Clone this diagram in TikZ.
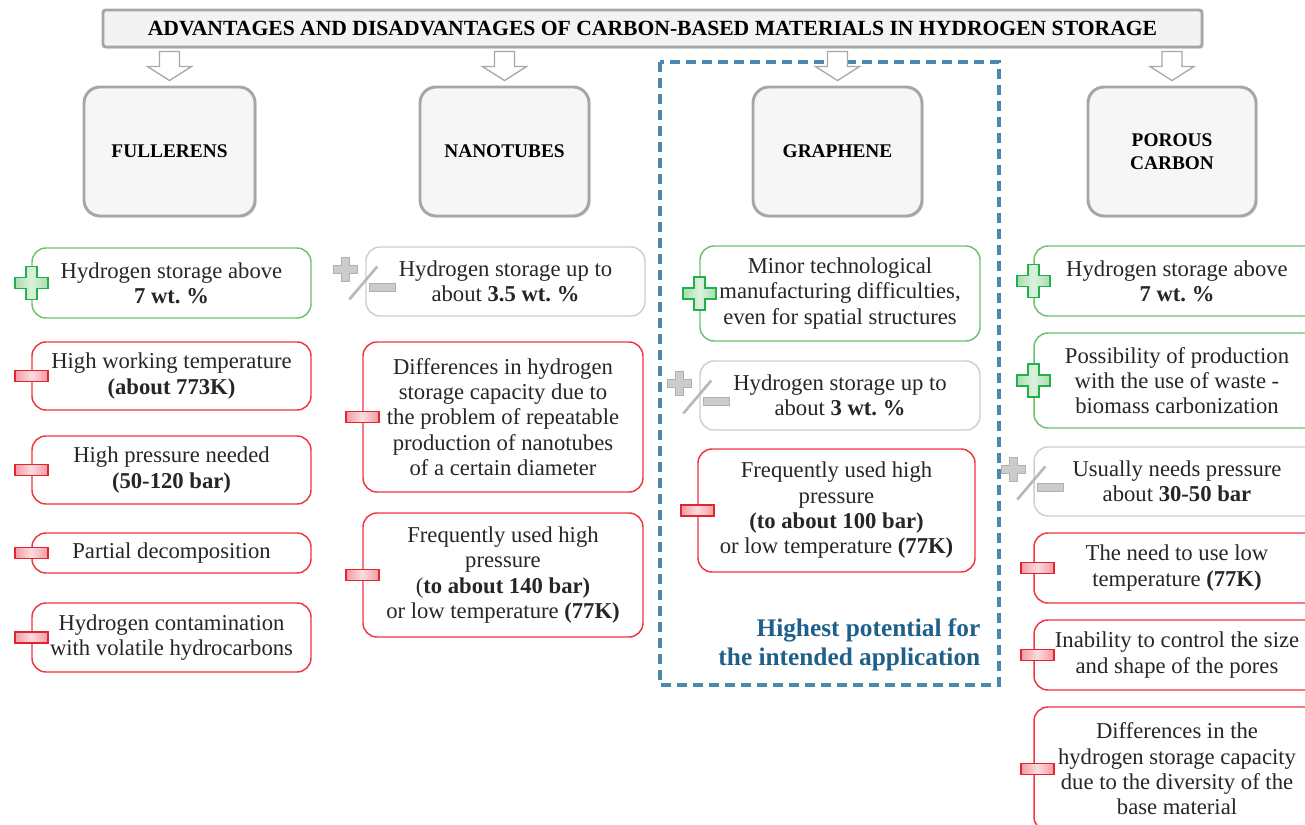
\documentclass[tikz,border=0pt]{standalone}
\usepackage{fontspec}
\setmainfont{Liberation Serif}
\usepackage{graphicx}
\usetikzlibrary{shadows,calc}

\definecolor{gborder}{HTML}{6CC26A}
\definecolor{rborder}{HTML}{F2343C}
\definecolor{grborder}{HTML}{CFCFCF}
\definecolor{catborder}{HTML}{A6A6A6}
\definecolor{catfill}{HTML}{F6F6F6}
\definecolor{titlefill}{HTML}{F3F3F3}
\definecolor{dashblue}{HTML}{4B87AE}
\definecolor{bluetext}{HTML}{1F5F8B}
\definecolor{txt}{HTML}{262626}
\definecolor{plusborder}{HTML}{20B04C}
\definecolor{plusfill}{HTML}{A8DDAE}
\definecolor{minusborder}{HTML}{E3242E}
\definecolor{minusfill}{HTML}{F29AA3}
\definecolor{pmgray}{HTML}{CCCCCC}
\definecolor{pmdark}{HTML}{B0B0B0}
\definecolor{arrowgray}{HTML}{A8A8A8}

\newcommand\bodyfont{\fontsize{17}{19}\selectfont}
\newcommand\catfont{\fontsize{14.5}{17.5}\selectfont\bfseries}
\newcommand\bluefont{\fontsize{19}{21.75}\selectfont\bfseries}
\newcommand\blockdown[1]{\draw[blockarr, shift={(#1.north)}] (-10,-34) -- (10,-34) -- (10,-19) -- (22,-19) -- (0,-5) -- (-22,-19) -- (-10,-19) -- cycle;}
% box from pixel corners: style, name, x1, y1, x2, y2, text
\newcommand\pxbox[7]{%
  \pgfmathsetmacro\bxcx{(#3+#5)/2}\pgfmathsetmacro\bxcy{(#4+#6)/2}%
  \pgfmathsetmacro\bxw{(#5-#3)*0.75}\pgfmathsetmacro\bxh{(#6-#4)*0.75}%
  \node[#1, minimum width=\bxw pt, minimum height=\bxh pt] (#2) at (\bxcx,\bxcy) {#7};}

\tikzset{
  item/.style={draw, rounded corners=10.5pt, line width=1.1pt, fill=white, inner sep=0pt, align=center, font=\bodyfont, text=txt},
  posbox/.style={item, draw=gborder},
  negbox/.style={item, draw=rborder},
  neubox/.style={item, draw=grborder},
  catbox/.style={draw=catborder, line width=2.2pt, fill=catfill, rounded corners=12pt, inner sep=0pt, align=center, font=\catfont, text=black,
    drop shadow={shadow xshift=1.2pt, shadow yshift=-1.2pt, opacity=0.3}},
  titlebox/.style={draw=catborder, line width=2.2pt, fill=titlefill, rounded corners=2pt, inner sep=0pt, text=black,
    drop shadow={shadow xshift=1.2pt, shadow yshift=-1.2pt, opacity=0.3}},
  blockarr/.style={draw=arrowgray, line width=1pt, fill=white, line join=miter},
  dashframe/.style={draw=dashblue, line width=2.3pt, dash pattern=on 7.5pt off 4.5pt},
  plusicon/.pic={\draw[draw=plusborder, line width=1.4pt, left color=plusfill, right color=plusfill, middle color=plusfill!40]
    (-5.5,-16.5) -- (5.5,-16.5) -- (5.5,-5.5) -- (16.5,-5.5) -- (16.5,5.5) -- (5.5,5.5) -- (5.5,16.5) -- (-5.5,16.5) -- (-5.5,5.5) -- (-16.5,5.5) -- (-16.5,-5.5) -- (-5.5,-5.5) -- cycle;},
  minusicon/.pic={\draw[draw=minusborder, line width=1.3pt, left color=minusfill, right color=minusfill, middle color=minusfill!35]
    (-16.5,-5.5) rectangle (16.5,5.5);},
  pmicon/.pic={
    \draw[draw=pmdark, line width=0.8pt, fill=pmgray]
      (-24,-24) -- (-16,-24) -- (-16,-16) -- (-8,-16) -- (-8,-8) -- (-16,-8) -- (-16,0) -- (-24,0) -- (-24,-8) -- (-32,-8) -- (-32,-16) -- (-24,-16) -- cycle;
    \draw[pmgray!90!black, line width=2pt] (-16,18) -- (12,-15);
    \draw[draw=pmdark, line width=0.8pt, fill=pmgray] (4,2) rectangle (30,10);}
}

\begin{document}
\begin{tikzpicture}[x=0.75pt,y=-0.75pt]
\useasboundingbox (0,0) rectangle (1305,824);
\clip (0,0) rectangle (1305,824);

% dashed frame around graphene
\draw[dashframe] (660,62) rectangle (999,685);

% title
\pxbox{titlebox}{title}{103}{10}{1202}{47}{\resizebox{757pt}{!}{\bfseries ADVANTAGES AND DISADVANTAGES OF CARBON-BASED MATERIALS IN HYDROGEN STORAGE}}

% category boxes
\pxbox{catbox}{ful}{84}{87}{255}{216}{FULLERENS}
\pxbox{catbox}{nan}{420}{87}{589}{216}{NANOTUBES}
\pxbox{catbox}{gra}{753}{87}{922}{216}{GRAPHENE}
\pxbox{catbox}{por}{1088}{87}{1256}{216}{POROUS\\CARBON}

% down arrows from title to categories
\blockdown{ful}
\blockdown{nan}
\blockdown{gra}
\blockdown{por}

% fullerens
\pxbox{posbox}{F1}{32}{248}{311}{318}{Hydrogen storage above\\\textbf{7 wt.\ \%}}
\pxbox{negbox}{F2}{32}{342}{311}{410}{High working temperature\\\textbf{(about 773K)}}
\pxbox{negbox}{F3}{32}{436}{311}{504}{High pressure needed\\\textbf{(50-120 bar)}}
\pxbox{negbox}{F4}{32}{533}{311}{573}{Partial decomposition}
\pxbox{negbox}{F5}{32}{603}{311}{672}{Hydrogen contamination\\with volatile hydrocarbons}

% nanotubes
\pxbox{neubox}{N1}{366}{247}{645}{316}{Hydrogen storage up to\\about \textbf{3.5 wt.\ \%}}
\pxbox{negbox}{N2}{363}{342}{643}{492}{Differences in hydrogen\\storage capacity due to\\the problem of repeatable\\production of nanotubes\\of a certain diameter}
\pxbox{negbox}{N3}{363}{513}{643}{637}{Frequently used high\\pressure\\(\textbf{to about 140 bar)}\\or low temperature \textbf{(77K)}}

% graphene
\pxbox{posbox}{G1}{700}{246}{980}{341}{Minor technological\\manufacturing difficulties,\\even for spatial structures}
\pxbox{neubox}{G2}{700}{361}{980}{430}{Hydrogen storage up to\\about \textbf{3 wt.\ \%}}
\pxbox{negbox}{G3}{698}{449}{975}{572}{Frequently used high\\pressure\\\textbf{(to about 100 bar)}\\or low temperature \textbf{(77K)}}
\node[anchor=east, align=right, font=\bluefont, text=bluetext] (hp) at (985,645) {Highest potential for\\the intended application};

% porous carbon
\pxbox{posbox}{P1}{1034}{246}{1320}{316}{Hydrogen storage above\\\textbf{7 wt.\ \%}}
\pxbox{posbox}{P2}{1034}{333}{1320}{428}{Possibility of production\\with the use of waste -\\biomass carbonization}
\pxbox{neubox}{P3}{1034}{447}{1320}{516}{Usually needs pressure\\about \textbf{30-50 bar}}
\pxbox{negbox}{P4}{1034}{533}{1320}{603}{The need to use low\\temperature \textbf{(77K)}}
\pxbox{negbox}{P5}{1034}{620}{1320}{690}{Inability to control the size\\and shape of the pores}
\pxbox{negbox}{P6}{1034}{707}{1320}{831}{Differences in the\\hydrogen storage capacity\\due to the diversity of the\\base material}

% icons
\pic at (F1.west) {plusicon};
\pic at (F2.west) {minusicon};
\pic at (F3.west) {minusicon};
\pic at (F4.west) {minusicon};
\pic at (F5.west) {minusicon};
\pic at (N1.west) {pmicon};
\pic at (N2.west) {minusicon};
\pic at (N3.west) {minusicon};
\pic at (G1.west) {plusicon};
\pic at (G2.west) {pmicon};
\pic at (G3.west) {minusicon};
\pic at (P1.west) {plusicon};
\pic at (P2.west) {plusicon};
\pic at (P3.west) {pmicon};
\pic at ($(P4.west)+(4,0)$) {minusicon};
\pic at ($(P5.west)+(4,0)$) {minusicon};
\pic at ($(P6.west)+(4,0)$) {minusicon};
\end{tikzpicture}
\end{document}
